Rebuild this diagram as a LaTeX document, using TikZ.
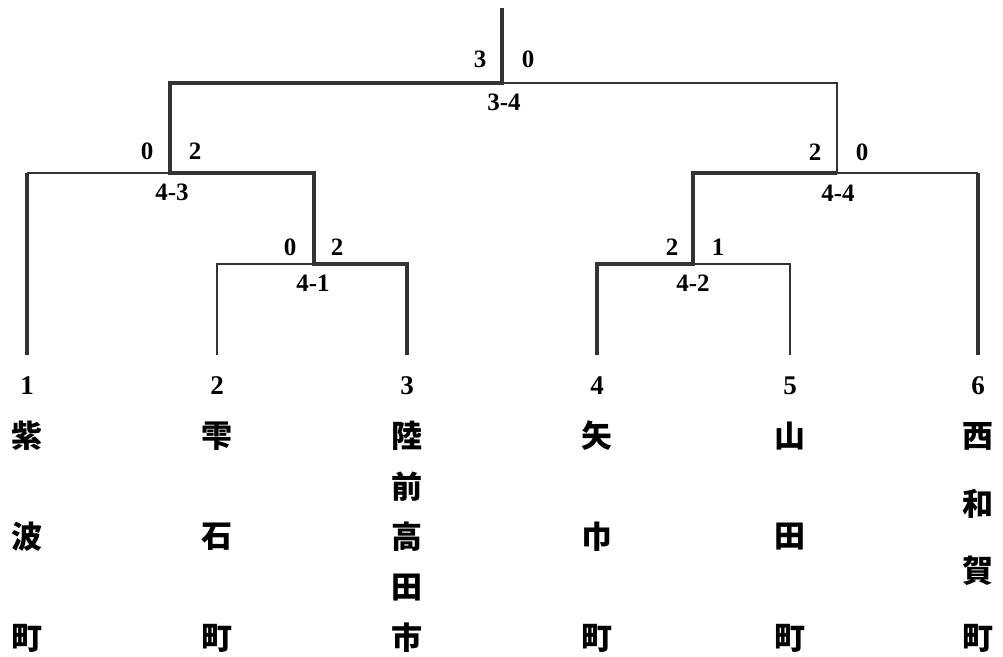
\documentclass[tikz,border=0pt]{standalone}
\usepackage{fontspec}
\setmainfont{Liberation Serif}
\newfontfamily\cjk{Noto Sans CJK JP}
\begin{document}
\begin{tikzpicture}[x=1pt, y=-1pt,
  win/.style={line width=4.2pt, draw=black!80, line join=miter},
  lose/.style={line width=2.4pt, draw=black!80},
  score/.style={font=\bfseries\fontsize{25}{25}\selectfont, inner sep=0pt},
  seed/.style={font=\bfseries\fontsize{27}{27}\selectfont, inner sep=0pt},
  team/.style={font=\cjk\bfseries\fontsize{31}{31}\selectfont, inner sep=0pt}]
\useasboundingbox (0,0) rectangle (1003,656);
% junctions of the bracket
\coordinate (top) at (502,8);
\coordinate (f) at (502,83);
\coordinate (fl) at (170,83);
\coordinate (fr) at (837,83);
\coordinate (s1l) at (27,173);
\coordinate (s1r) at (314,173);
\coordinate (s2l) at (693,173);
\coordinate (s2r) at (978,173);
\coordinate (q1l) at (217,264);
\coordinate (q1) at (314,264);
\coordinate (q1r) at (407,264);
\coordinate (q2l) at (597,264);
\coordinate (q2) at (693,264);
\coordinate (q2r) at (790,264);
\foreach \x [count=\i] in {27,217,407,597,790,978}
  \coordinate (t\i) at (\x,355);
% teams
\foreach \x/\n/\chars/\k in {27/1/{紫,波,町}/3, 217/2/{雫,石,町}/3,
    407/3/{陸,前,高,田,市}/5, 597/4/{矢,巾,町}/3, 790/5/{山,田,町}/3,
    978/6/{西,和,賀,町}/4} {
  \node[seed] (n\n) at (\x,386) {\n};
  \foreach \c [count=\i from 0] in \chars
    \node[team] (c\n-\i) at (\x,{436+\i*202/(\k-1)}) {\c};
}
% losing sides
\draw[lose] (t2) -- (q1l) -- (q1);
\draw[lose] (t5) -- (q2r) -- (q2);
\draw[lose] (s1l) -- (fl |- s1l);
\draw[lose] (s2r) -- (fr |- s2r) -- (fr) -- (f);
% winning sides
\draw[win] (t1) -- (s1l);
\draw[win] (t6) -- (s2r);
\draw[win] (t3) -- (q1r) -- (q1) -- (s1r) -- (fl |- s1r) -- (fl) -- (f) -- (top);
\draw[win] (t4) -- (q2l) -- (q2) -- (s2l) -- (fr |- s2l);
% scores
\node[score] (a1) at (480,59) {3};
\node[score] (a2) at (528,59) {0};
\node[score] (b1) at (147,151) {0};
\node[score] (b2) at (195,151) {2};
\node[score] (c1) at (290,247) {0};
\node[score] (c2) at (337,247) {2};
\node[score] (d1) at (815,152) {2};
\node[score] (d2) at (862,152) {0};
\node[score] (e1) at (672,247) {2};
\node[score] (e2) at (718,247) {1};
% match numbers
\node[score] (m34) at (504,102) {3-4};
\node[score] (m43) at (172,192) {4-3};
\node[score] (m44) at (838,193) {4-4};
\node[score] (m41) at (313,283) {4-1};
\node[score] (m42) at (693,283) {4-2};
\end{tikzpicture}
\end{document}
